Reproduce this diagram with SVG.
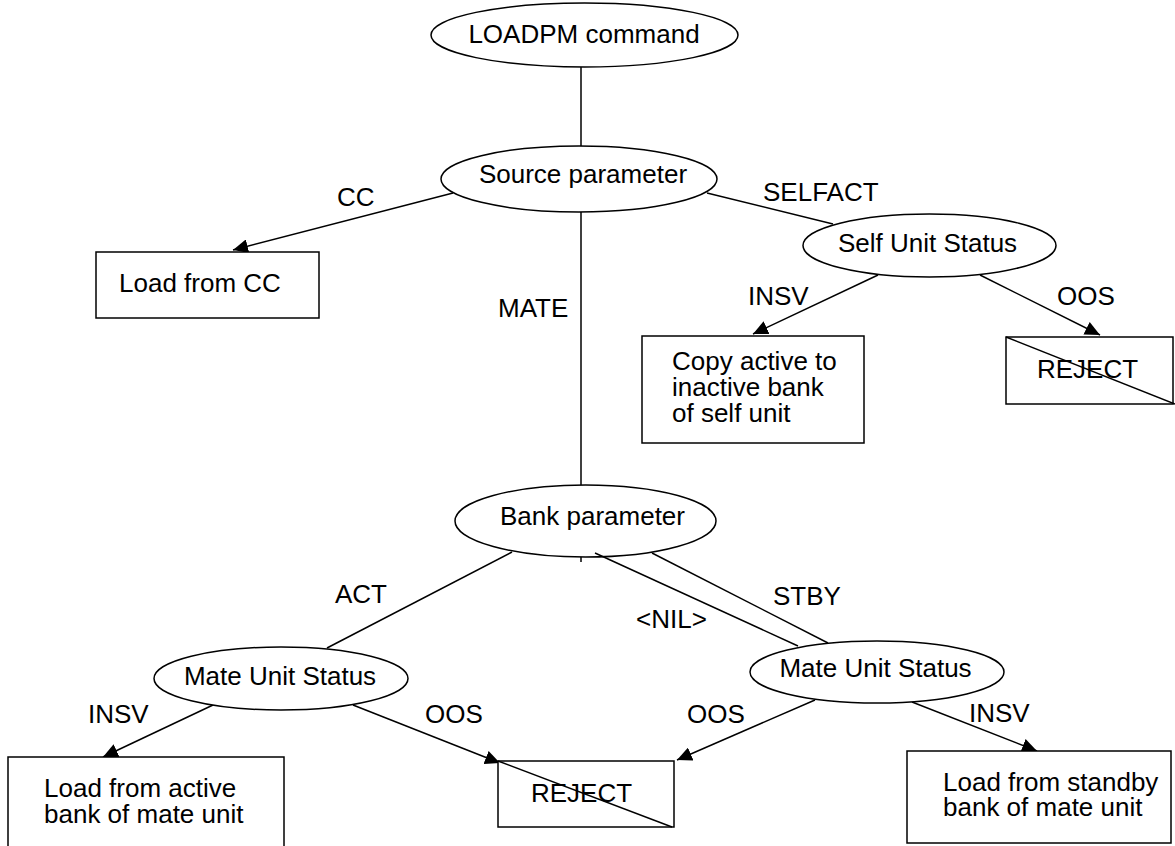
<svg xmlns="http://www.w3.org/2000/svg" width="1175" height="846" viewBox="0 0 1175 846">
<style>
.n{fill:#fff;stroke:#000;stroke-width:1.5}
.e{fill:none;stroke:#000;stroke-width:1.5}
.a{fill:none;stroke:#000;stroke-width:1.5;marker-end:url(#ah)}
text{font-family:"Liberation Sans",Arial,sans-serif;font-size:26px;fill:#000}
.m{text-anchor:middle}
</style>
<defs>
<marker id="ah" markerUnits="userSpaceOnUse" markerWidth="16" markerHeight="14" refX="15" refY="7" orient="auto">
<path d="M0,0 L15,7 L0,14 Z" fill="#000"/>
</marker>
</defs>
<rect width="1175" height="846" fill="#fff"/>
<g id="connectors">
<line class="e" x1="581" y1="66" x2="581" y2="147"/>
<line class="e" x1="581" y1="212" x2="581" y2="562"/>
<line class="a" x1="453" y1="193" x2="233" y2="250"/>
<line class="e" x1="707" y1="193" x2="833" y2="224"/>
<line class="a" x1="878" y1="275" x2="753" y2="334"/>
<line class="a" x1="980" y1="275" x2="1100" y2="335"/>
<line class="e" x1="512" y1="552" x2="327" y2="648"/>
<line class="e" x1="652" y1="553" x2="828" y2="643"/>
<line class="a" x1="213" y1="705" x2="103" y2="757"/>
<line class="a" x1="353" y1="705" x2="500" y2="763"/>
<line class="a" x1="815" y1="700" x2="677" y2="760"/>
<line class="a" x1="912" y1="702" x2="1037" y2="751"/>
<text x="337" y="206">CC</text>
<text x="763" y="201">SELFACT</text>
<text x="498" y="317">MATE</text>
<text x="748" y="305">INSV</text>
<text x="1057" y="305">OOS</text>
<text x="335" y="603">ACT</text>
<text x="636" y="628">&lt;NIL&gt;</text>
<text x="773" y="605">STBY</text>
<text x="88" y="723">INSV</text>
<text x="425" y="723">OOS</text>
<text x="687" y="723">OOS</text>
<text x="969" y="722">INSV</text>
</g>
<g id="loadpm">
<ellipse class="n" cx="584.5" cy="35" rx="153.5" ry="32"/>
<text class="m" x="584" y="43">LOADPM command</text>
</g>
<g id="source">
<ellipse class="n" cx="579" cy="179" rx="138" ry="33"/>
<text class="m" x="583" y="183">Source parameter</text>
</g>
<g id="loadcc">
<rect class="n" x="96" y="252" width="223" height="66"/>
<text x="119" y="292">Load from CC</text>
</g>
<g id="selfstatus">
<ellipse class="n" cx="929.5" cy="245.5" rx="126.5" ry="31.5"/>
<text class="m" x="927.5" y="252">Self Unit Status</text>
</g>
<g id="copy">
<rect class="n" x="642" y="336" width="222" height="107"/>
<text x="672" y="370">Copy active to</text>
<text x="672" y="396">inactive bank</text>
<text x="672" y="422">of self unit</text>
</g>
<g id="reject1">
<rect class="n" x="1006" y="337" width="167" height="67"/>
<line class="e" x1="1006" y1="337" x2="1175" y2="404"/>
<text x="1037" y="378">REJECT</text>
</g>
<g id="bank">
<ellipse class="n" cx="585.5" cy="521" rx="130.5" ry="36"/>
<text class="m" x="592.5" y="525">Bank parameter</text>
<line class="e" x1="595" y1="553" x2="798" y2="646"/>
</g>
<g id="mate1">
<ellipse class="n" cx="281" cy="678.5" rx="127" ry="31.5"/>
<text class="m" x="280" y="685">Mate Unit Status</text>
</g>
<g id="mate2">
<ellipse class="n" cx="877" cy="672" rx="127" ry="31"/>
<text class="m" x="875.5" y="677">Mate Unit Status</text>
</g>
<g id="loadactive">
<rect class="n" x="8" y="757" width="276" height="93"/>
<text x="44" y="797">Load from active</text>
<text x="44" y="823">bank of mate unit</text>
</g>
<g id="reject2">
<rect class="n" x="498" y="761" width="176" height="66"/>
<line class="e" x1="498" y1="761" x2="672" y2="827"/>
<text x="531" y="802">REJECT</text>
</g>
<g id="loadstandby">
<rect class="n" x="907" y="751" width="264" height="92"/>
<text x="943" y="791">Load from standby</text>
<text x="943" y="816">bank of mate unit</text>
</g>
</svg>
